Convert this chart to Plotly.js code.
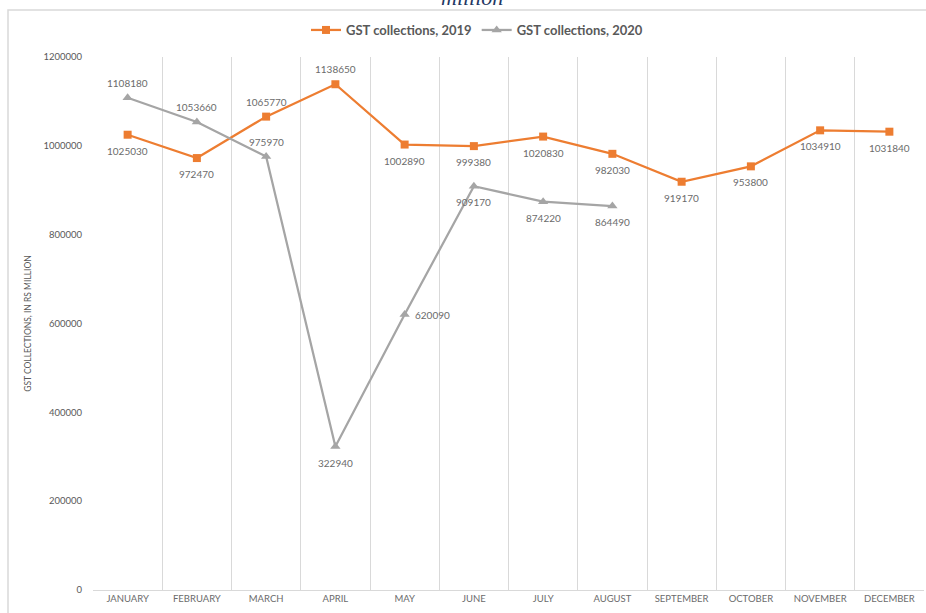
<!DOCTYPE html>
<html>
<head>
<meta charset="utf-8">
<script src="https://cdn.plot.ly/plotly-3.0.1.min.js"></script>
<style>html,body{margin:0;padding:0;background:#fff;}#chart{width:926px;height:613px;}</style>
</head>
<body>
<div id="chart"></div>
<script>
const months = ['JANUARY','FEBRUARY','MARCH','APRIL','MAY','JUNE','JULY','AUGUST','SEPTEMBER','OCTOBER','NOVEMBER','DECEMBER'];
const gst2019 = [1025030, 972470, 1065770, 1138650, 1002890, 999380, 1020830, 982030, 919170, 953800, 1034910, 1031840];
const months2020 = ['JANUARY','FEBRUARY','MARCH','APRIL','MAY','JUNE','JULY','AUGUST'];
const gst2020 = [1108180, 1053660, 975970, 322940, 620090, 909170, 874220, 864490];
const yTicks = [0, 200000, 400000, 600000, 800000, 1000000, 1200000];

// label placement: 'a' above, 'b' below, 'r' right
const pos2019 = ['b','b','a','a','b','b','b','b','b','b','b','b'];
const pos2020 = ['a','a','a','b','r','b','b','b'];

const FONT = 'Lato, "Open Sans", sans-serif';
const labelFont = {family: FONT, size: 10, color: '#6b6b6b'};

const traces = [
  {
    type: 'scatter', mode: 'lines+markers', name: 'GST collections, 2019',
    x: months, y: gst2019,
    line: {color: '#ED7D31', width: 2.25},
    marker: {symbol: 'square', size: 8, color: '#ED7D31'},
    cliponaxis: false
  },
  {
    type: 'scatter', mode: 'lines+markers', name: 'GST collections, 2020',
    x: months2020, y: gst2020,
    line: {color: '#A5A5A5', width: 2.25},
    marker: {symbol: 'triangle-up', size: 9, color: '#A5A5A5'},
    cliponaxis: false
  }
];

function labels(xs, ys, ps) {
  return ys.map((v, i) => {
    const p = ps[i];
    return {
      xref: 'x', yref: 'y', x: xs[i], y: v, text: String(v), showarrow: false,
      font: labelFont,
      xanchor: p === 'r' ? 'left' : 'center', yanchor: 'middle',
      xshift: p === 'r' ? 8 : 0,
      yshift: p === 'a' ? 15 : (p === 'b' ? -16 : 0)
    };
  });
}

const L = 93, R = 2, T = 57, B = 23;
const pw = 926 - L - R, ph = 613 - T - B;
const px = v => (v - L) / pw;
const py = v => (613 - B - v) / ph;

const layout = {
  width: 926, height: 613,
  margin: {l: L, r: R, t: T, b: B, pad: 0},
  paper_bgcolor: '#fff', plot_bgcolor: '#fff',
  font: {family: FONT, color: '#595959'},
  showlegend: true,
  legend: {
    orientation: 'h', xref: 'container', yref: 'container',
    x: 477/926, xanchor: 'center', y: 1 - 30/613, yanchor: 'middle',
    font: {family: FONT, size: 13, color: '#595959', weight: 'bold'},
    itemwidth: 30, tracegroupgap: 0, bgcolor: 'rgba(0,0,0,0)'
  },
  xaxis: {
    type: 'category', categoryorder: 'array', categoryarray: months,
    range: [-0.5, 11.5], tickson: 'boundaries', ticks: '',
    showgrid: true, gridcolor: '#d9d9d9', gridwidth: 1,
    showline: true, linecolor: '#d9d9d9', linewidth: 1,
    tickfont: {family: FONT, size: 9.5, color: '#6b6b6b'},
    fixedrange: true, zeroline: false
  },
  yaxis: {
    range: [0, 1200000], tickvals: yTicks, ticktext: yTicks.map(String),
    showgrid: false, zeroline: false, showline: false, ticks: '',
    ticklabelstandoff: 10,
    tickfont: {family: FONT, size: 9.5, color: '#595959'},
    title: {text: 'GST COLLECTIONS, IN RS MILLION', font: {family: FONT, size: 8.5, color: '#595959'}, standoff: 10},
    fixedrange: true
  },
  shapes: [
    {type: 'path', xref: 'paper', yref: 'paper',
     path: `M ${px(8)} ${py(613)} L ${px(8)} ${py(10)} L ${px(926)} ${py(10)}`,
     line: {color: '#d9d9d9', width: 1.5}, layer: 'below'}
  ],
  annotations: [
    {xref: 'paper', yref: 'paper', x: px(472), y: py(12), xanchor: 'center', yanchor: 'bottom',
     text: 'million', showarrow: false,
     font: {family: '"Liberation Serif", serif', size: 22, color: '#1F3864', style: 'italic'}}
  ].concat(labels(months, gst2019, pos2019), labels(months2020, gst2020, pos2020))
};

Plotly.newPlot('chart', traces, layout, {displayModeBar: false, staticPlot: true});
</script>
</body>
</html>
